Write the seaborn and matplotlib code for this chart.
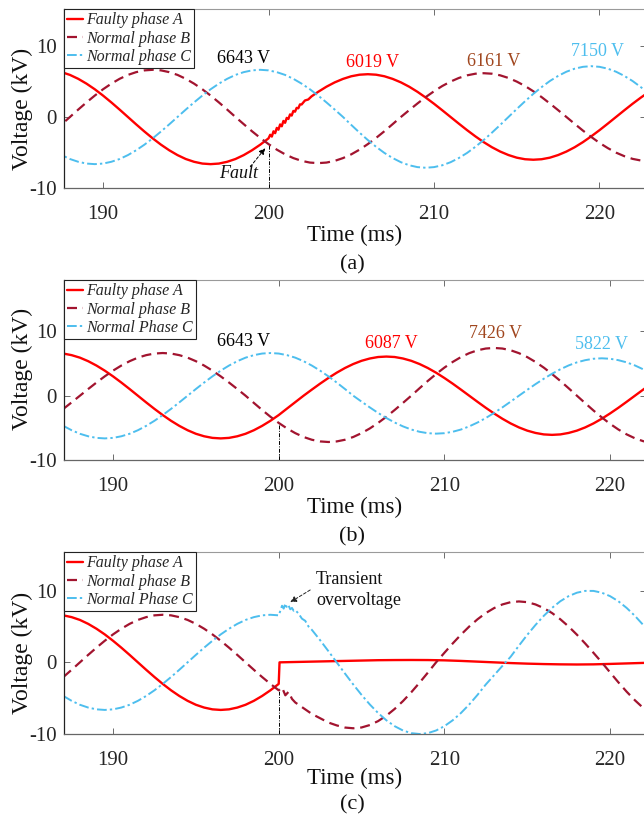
import matplotlib
matplotlib.use("Agg")
import matplotlib.pyplot as plt
import seaborn as sns

sns.set_style("ticks")
plt.rcParams['font.family'] = ['Liberation Serif', 'DejaVu Serif']
plt.rcParams['axes.unicode_minus'] = False

# ---------------- data (kV vs ms) ----------------
t_half = [187.0, 187.5, 188.0, 188.5, 189.0, 189.5, 190.0, 190.5, 191.0, 191.5,
          192.0, 192.5, 193.0, 193.5, 194.0, 194.5, 195.0, 195.5, 196.0, 196.5,
          197.0, 197.5, 198.0, 198.5, 199.0, 199.5, 200.0, 200.5, 201.0, 201.5,
          202.0, 202.5, 203.0, 203.5, 204.0, 204.5, 205.0, 205.5, 206.0, 206.5,
          207.0, 207.5, 208.0, 208.5, 209.0, 209.5, 210.0, 210.5, 211.0, 211.5,
          212.0, 212.5, 213.0, 213.5, 214.0, 214.5, 215.0, 215.5, 216.0, 216.5,
          217.0, 217.5, 218.0, 218.5, 219.0, 219.5, 220.0, 220.5, 221.0, 221.5,
          222.0, 222.5, 223.0]
t_int_post = [201, 202, 203, 204, 205, 206, 207, 208, 209, 210, 211, 212, 213, 214,
              215, 216, 217, 218, 219, 220, 221, 222, 223]

# phase A before the fault (187 ... 200 ms)
A_pre = [6.56, 6.31, 5.92, 5.37, 4.69, 3.90, 3.01, 2.05, 1.04, 0.00, -1.04, -2.05,
         -3.01, -3.90, -4.69, -5.37, -5.92, -6.31, -6.56, -6.64, -6.56, -6.31, -5.92,
         -5.37, -4.69, -3.90, -3.01]
# phase B before the fault (187 ... 198 ms)
B_pre = [-2.05, -1.04, 0.00, 1.04, 2.05, 3.01, 3.90, 4.69, 5.37, 5.92, 6.31, 6.56,
         6.64, 6.56, 6.31, 5.92, 5.37, 4.69, 3.90, 3.01, 2.05, 1.04, 0.00]
# phase C before the fault (187 ... 204.5 ms)
C_pre = [-4.69, -5.37, -5.92, -6.31, -6.56, -6.64, -6.56, -6.31, -5.92, -5.37, -4.69,
         -3.90, -3.01, -2.05, -1.04, 0.00, 1.04, 2.05, 3.01, 3.90, 4.69, 5.37, 5.92,
         6.31, 6.56, 6.64, 6.56, 6.31, 5.92, 5.37, 4.69, 3.90, 3.01, 2.05, 1.04, 0.00]

# (a) single-phase fault, case 1
ta_A = t_half[:27] + [200.1, 200.2, 200.3, 200.4, 200.5, 200.6, 200.7, 200.8, 200.9,
                      201.0, 201.1, 201.2, 201.3, 201.4, 201.5, 201.6, 201.7, 201.8,
                      201.9, 202.0, 202.2, 202.4, 202.6, 202.8] + t_half[32:]
va_A = A_pre + [-2.51, -2.76, -2.02, -2.28, -1.54, -1.79, -1.05, -1.31, -0.56, -0.82,
                -0.13, -0.28, 0.36, 0.20, 0.85, 0.74, 1.28, 1.22, 1.77, 1.76,
                2.32, 2.46, 2.90, 3.22,
                3.54, 4.26, 4.87, 5.36, 5.73, 5.95, 6.02, 5.95, 5.73, 5.36, 4.87,
                4.26, 3.54, 2.73, 1.86, 0.94, 0.00, -0.94, -1.86, -2.73, -3.54, -4.26,
                -4.87, -5.36, -5.73, -5.95, -6.02, -5.95, -5.73, -5.36, -4.87, -4.26,
                -3.54, -2.73, -1.86, -0.94, 0.00, 0.94, 1.86, 2.73, 3.54]
va_B = B_pre + [-1.01, -2.01, -2.95, -3.82, -4.60, -5.26, -5.79, -6.18, -6.42, -6.50,
                -6.42, -6.18, -5.79, -5.26, -4.60, -3.82, -2.95, -2.01, -1.01, 0.00,
                0.96, 1.90, 2.80, 3.62, 4.36, 4.98, 5.49, 5.86, 6.09, 6.16,
                6.09, 5.86, 5.49, 4.98, 4.36, 3.62, 2.80, 1.90, 0.96, 0.00,
                -0.97, -1.92, -2.81, -3.65, -4.38, -5.02, -5.52, -5.90, -6.13, -6.20]
va_C = C_pre + [-1.12, -2.21, -3.25, -4.20, -5.06, -5.78, -6.37, -6.80, -7.06, -7.15,
                -7.06, -6.80, -6.37, -5.78, -5.06, -4.20, -3.25, -2.21, -1.12, 0.00,
                1.12, 2.21, 3.25, 4.20, 5.06, 5.78, 6.37, 6.80, 7.06, 7.15,
                7.06, 6.80, 6.37, 5.78, 5.06, 4.20, 3.25]

# (b) case 2
vb_A = A_pre + [-2.00, -1.00, 0.00, 0.95, 1.88, 2.76, 3.58, 4.31, 4.93, 5.43, 5.79,
                6.02, 6.09, 6.02, 5.79, 5.43, 4.93, 4.31, 3.58, 2.76, 1.88, 0.95,
                0.00, -0.95, -1.88, -2.76, -3.58, -4.31, -4.93, -5.43, -5.79, -6.02,
                -6.09, -6.02, -5.79, -5.43, -4.93, -4.31, -3.58, -2.76, -1.88, -0.95,
                0.00, 0.95, 1.88, 2.76]
vb_B = B_pre + [-1.12, -2.22, -3.27, -4.23, -5.09, -5.82, -6.42, -6.85, -7.11, -7.20,
                -7.11, -6.85, -6.42, -5.82, -5.09, -4.23, -3.27, -2.22, -1.12, 0.00,
                1.16, 2.30, 3.37, 4.37, 5.25, 6.01, 6.62, 7.07, 7.34, 7.43,
                7.34, 7.07, 6.62, 6.01, 5.25, 4.37, 3.37, 2.30, 1.16, 0.00,
                -1.16, -2.30, -3.37, -4.37, -5.25, -6.01, -6.62, -7.07, -7.34, -7.43]
vb_C = C_pre + [-0.92, -1.82, -2.68, -3.47, -4.17, -4.77, -5.26, -5.61, -5.83, -5.90,
                -5.83, -5.61, -5.26, -4.77, -4.17, -3.47, -2.68, -1.82, -0.92, 0.00,
                0.91, 1.80, 2.64, 3.42, 4.11, 4.71, 5.19, 5.53, 5.75, 5.82,
                5.75, 5.53, 5.19, 4.71, 4.11, 3.42, 2.64]

# (c) case 3 (phase A grounded, transient overvoltage)
tc_A = t_half[:27] + [200.05] + t_int_post
vc_A = A_pre + [0.00] + [0.05, 0.10, 0.15, 0.20, 0.25, 0.30, 0.32, 0.33, 0.32, 0.28,
                         0.20, 0.10, 0.00, -0.10, -0.18, -0.24, -0.28, -0.30, -0.28,
                         -0.22, -0.15, -0.08, 0.00]
tc_B = t_half[:27] + [200.2, 200.4, 200.6, 200.8] + t_half[28:]
vc_B = B_pre + [-1.04, -2.05, -3.01, -3.90,
                -3.50, -4.60, -4.10, -5.10,
                -5.60, -6.40, -7.20, -7.80, -8.40, -8.80, -9.10, -9.20,
                -9.09, -8.75, -8.20, -7.44, -6.50, -5.41, -4.18, -2.84, -1.44, 0.00,
                1.33, 2.63, 3.86, 5.00, 6.01, 6.88, 7.57, 8.08, 8.40, 8.50,
                8.40, 8.08, 7.57, 6.88, 6.01, 5.00, 3.86, 2.63, 1.33, 0.00,
                -1.40, -2.78, -4.09, -5.29, -6.36, -7.28, -8.02]
tc_C = t_half[:27] + [200.1, 200.2, 200.3, 200.4, 200.5, 200.6, 200.7, 200.8, 200.9,
                      201.0, 201.2, 201.4, 201.6, 201.8] + t_half[30:]
vc_C = C_pre[:27] + [7.2, 7.9, 7.5, 8.2, 7.6, 7.9, 7.4, 7.6, 7.2,
                     7.3, 6.8, 6.1, 5.8, 5.0,
                     4.54, 3.09, 1.56, 0.00, -1.56, -3.09, -4.54, -5.88, -7.07, -8.09,
                     -8.91, -9.51, -9.88, -10.0, -9.88, -9.51, -8.91, -8.09, -7.07,
                     -5.88, -4.54, -3.09, -1.80, -0.50,
                     0.78, 2.33, 3.83, 5.22, 6.49, 7.60, 8.53, 9.24, 9.72, 9.97,
                     9.97, 9.72, 9.24, 8.53, 7.60, 6.49, 5.22, 3.83, 2.33]

labels_a = ["Faulty phase A", "Normal phase B", "Normal phase C"]
labels_bc = ["Faulty phase A", "Normal phase B", "Normal Phase C"]
peak_a = ["6643 V", "6019 V", "6161 V", "7150 V"]
peak_b = ["6643 V", "6087 V", "7426 V", "5822 V"]

# ---------------- styling ----------------
CA, CB, CC = "#FF0000", "#A2142F", "#4DBEEE"
C_BROWN = "#A0461E"
W, H = 644, 819
fig = plt.figure(figsize=(W / 100, H / 100), dpi=100)


def make_ax(top, bottom):
    left, right = 64, 645.5
    return fig.add_axes([left / W, 1 - bottom / H, (right - left) / W, (bottom - top) / H])


ax_a = make_ax(9, 188)
ax_b = make_ax(280, 460)
ax_c = make_ax(552, 734)


def draw(ax, tA, vA, tB, vB, tC, vC, labels):
    sns.lineplot(x=tA, y=vA, ax=ax, color=CA, lw=1.7, label=labels[0],
                 estimator=None, sort=False)
    sns.lineplot(x=tB, y=vB, ax=ax, color=CB, lw=1.6, linestyle=(0, (4.5, 2.6)),
                 label=labels[1], estimator=None, sort=False)
    sns.lineplot(x=tC, y=vC, ax=ax, color=CC, lw=1.4, linestyle=(0, (5, 1.6, 1.2, 1.6)),
                 label=labels[2], estimator=None, sort=False)


def style(ax, xlim, ylim, xlab_off, ylab_y, axh):
    ax.set_xlim(*xlim)
    ax.set_ylim(*ylim)
    ax.set_xticks([190, 200, 210, 220])
    ax.set_yticks([-10, 0, 10])
    ax.tick_params(direction='in', top=True, right=True, length=4, width=0.6,
                   color='#555555', labelcolor='#262626', labelsize=15)
    ax.tick_params(axis='x', pad=12)
    ax.tick_params(axis='y', pad=5)
    for s in ['top', 'right']:
        ax.spines[s].set_color('#9a9a9a')
        ax.spines[s].set_linewidth(0.8)
    ax.spines['left'].set_color('#222222')
    ax.spines['bottom'].set_color('#666666')
    ax.spines['left'].set_linewidth(0.9)
    ax.spines['bottom'].set_linewidth(0.9)
    ax.set_xlabel("Time (ms)", fontsize=16.5, color='#111111')
    ax.xaxis.set_label_coords(0.5, -xlab_off / axh)
    ax.xaxis.label.set_va('center')
    ax.set_ylabel("Voltage (kV)", fontsize=17, color='#111111')
    ax.yaxis.set_label_coords(-42 / 581.5, ylab_y)
    ax.yaxis.label.set_va('center')
    leg = ax.legend(loc='upper left', bbox_to_anchor=(0, 1), borderaxespad=0,
                    prop={'family': 'Liberation Serif', 'style': 'italic', 'size': 11.5},
                    frameon=True, fancybox=False, edgecolor='#222222', framealpha=1,
                    handlelength=1.0, handletextpad=0.2, labelspacing=0.15, borderpad=0.2)
    leg.get_frame().set_linewidth(0.8)


draw(ax_a, ta_A, va_A, t_half, va_B, t_half, va_C, labels_a)
draw(ax_b, t_half, vb_A, t_half, vb_B, t_half, vb_C, labels_bc)
draw(ax_c, tc_A, vc_A, tc_B, vc_B, tc_C, vc_C, labels_bc)

style(ax_a, (187.64, 222.78), (-10, 15.2), 47, 0.44, 179)
style(ax_b, (187.04, 222.14), (-10, 18.0), 47, 0.505, 180)
style(ax_c, (187.04, 222.14), (-10, 15.4), 44, 0.448, 182)

# fault markers (dash-dot line up to phase B at t = 200 ms)
for ax, tB, vB in [(ax_a, t_half, va_B), (ax_b, t_half, vb_B), (ax_c, tc_B, vc_B)]:
    ax.vlines(200, ax.get_ylim()[0], vB[tB.index(200)], colors='black',
              linestyles=(0, (4, 1.5, 1, 1.5)), lw=0.7, zorder=1)

# peak labels
fs = 13
ax_a.text(198.5, 8.3, peak_a[0], color='black', ha='center', va='center', fontsize=fs)
ax_a.text(206.3, 7.6, peak_a[1], color=CA, ha='center', va='center', fontsize=fs)
ax_a.text(213.6, 7.8, peak_a[2], color=C_BROWN, ha='center', va='center', fontsize=fs)
ax_a.text(219.9, 9.2, peak_a[3], color=CC, ha='center', va='center', fontsize=fs)

ax_b.text(197.9, 8.5, peak_b[0], color='black', ha='center', va='center', fontsize=fs)
ax_b.text(206.8, 8.2, peak_b[1], color=CA, ha='center', va='center', fontsize=fs)
ax_b.text(213.1, 9.75, peak_b[2], color=C_BROWN, ha='center', va='center', fontsize=fs)
ax_b.text(219.5, 8.0, peak_b[3], color=CC, ha='center', va='center', fontsize=fs)

# Fault annotation
ax_a.annotate('', xy=(199.8, -4.4), xytext=(198.9, -7.0),
              arrowprops=dict(arrowstyle='-|>', color='black', lw=0.7,
                              linestyle=(0, (3, 2)), mutation_scale=9,
                              shrinkA=0, shrinkB=0))
ax_a.text(198.2, -7.9, 'Fault', ha='center', va='center', fontsize=13,
          fontstyle='italic', color='#111111')

# Transient overvoltage annotation
ax_c.annotate('', xy=(200.7, 8.4), xytext=(201.9, 10.1),
              arrowprops=dict(arrowstyle='-|>', color='#222222', lw=0.7,
                              linestyle=(0, (3, 2)), mutation_scale=9,
                              shrinkA=0, shrinkB=0))
ax_c.text(202.25, 10.1, 'Transient\novervoltage', ha='left', va='center',
          fontsize=13, color='#111111', linespacing=1.25)

# panel letters
for ypx, lab in [(265, '(a)'), (537, '(b)'), (805, '(c)')]:
    fig.text(352 / W, 1 - ypx / H, lab, ha='center', va='center', fontsize=16,
             color='#111111')

fig.savefig("out.png", dpi=100)
